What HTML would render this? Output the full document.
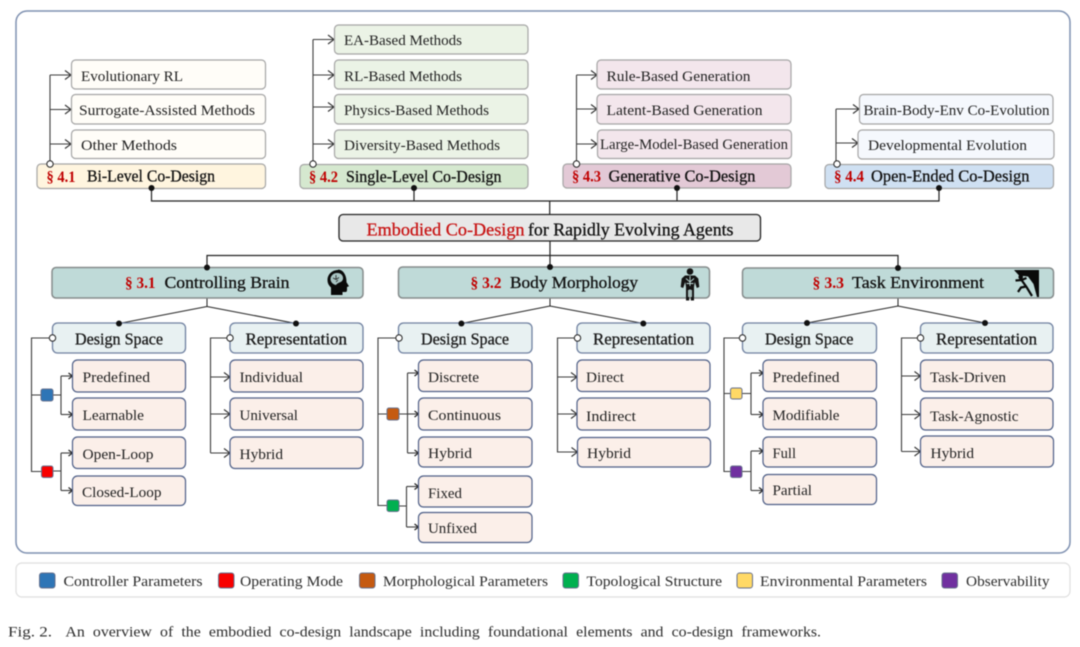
<!DOCTYPE html>
<html><head><meta charset="utf-8"><style>
html,body{margin:0;padding:0;background:#fff}
svg{display:block;filter:blur(.45px)}
text{font-family:"Liberation Serif",serif;fill:#222}
.l{font-size:15px}
.t{font-size:17px;fill:#111;stroke:#111;stroke-width:.3px}
.s{font-size:15.5px;fill:#c00000;font-weight:bold}
.h{font-size:16.5px;fill:#1a1a1a;stroke:#1a1a1a;stroke-width:.3px}
.c{font-size:18px;stroke-width:.3px}
.g{font-size:14.5px;fill:#2c2c2c}
.ln{fill:none;stroke:#3c3c3c;stroke-width:1.1}
.k{fill:none;stroke:#222;stroke-width:1.2}
.a{marker-end:url(#m)}
.b{marker-end:url(#n)}
.leaf{fill:#fbefe9;stroke:#4f6088;stroke-width:1.2}
.ds{fill:#e8f1f2;stroke:#6f80a0;stroke-width:1.3}
.sec{fill:#bfdad8;stroke:#858b8b;stroke-width:1.5}
.bd{stroke:#a5a5a5;stroke-width:1.2}
.od{fill:#fff;stroke:#222;stroke-width:1}
</style></head><body>
<svg width="1080" height="647" viewBox="0 0 1080 647" xmlns="http://www.w3.org/2000/svg">
<defs>
<marker id="m" markerUnits="userSpaceOnUse" markerWidth="10" markerHeight="12" refX="8" refY="6" orient="auto"><path d="M2 1.5L8 6L2 10.5" fill="none" stroke="#333" stroke-width="1.1"/></marker>
<marker id="n" markerUnits="userSpaceOnUse" markerWidth="8" markerHeight="8" refX="6" refY="4" orient="auto"><path d="M2 1L6 4L2 7" fill="none" stroke="#222" stroke-width="1.2"/></marker>
</defs>
<rect x="16" y="11" width="1054" height="542" rx="11" fill="#fff" stroke="#7e90b0" stroke-width="1.5"/>
<rect x="16" y="563" width="1054" height="34" rx="6" fill="#fff" stroke="#dedede" stroke-width="1.2"/>

<!-- top connectors -->
<path class="k" d="M151.500 188V201H939V188M414 188V201M677 188V201M549.700 201V214.500"/>
<path class="k" d="M207 267.500V255.500H898V268M550 241V267"/>
<path class="k" style="stroke-width:1" d="M207 298V306.500M119 323.500L207 306.500L296 323.500M550 298V306M461.400 323.500L550 306L643.300 323.500M898 298V306M807 323L898 306L985 323"/>

<!-- group connectors -->
<path class="ln" d="M50 164V75"/><path class="ln a" d="M50 75H71"/><path class="ln a" d="M50 109.500H71"/><path class="ln a" d="M50 144H71"/>
<path class="ln" d="M313 164V39.500"/><path class="ln a" d="M313 39.500H334"/><path class="ln a" d="M313 75H334"/><path class="ln a" d="M313 107H334"/><path class="ln a" d="M313 144H334"/>
<path class="ln" d="M576.500 164V75"/><path class="ln a" d="M576.500 75H597"/><path class="ln a" d="M576.500 109H597"/><path class="ln a" d="M576.500 144H597"/>
<path class="ln" d="M836 164V109"/><path class="ln a" d="M836 109H859"/><path class="ln a" d="M836 143H858"/>

<!-- top boxes -->
<g class="bd" fill="#fffdf8">
<rect x="71.500" y="60" width="194" height="29" rx="4"/><rect x="71.500" y="94.500" width="194" height="29.500" rx="4"/><rect x="71.500" y="130" width="194" height="28.500" rx="4"/></g>
<rect class="bd" x="37" y="164" width="228.500" height="24.500" rx="4" fill="#fff5df"/>
<g class="bd" fill="#ebf3e6">
<rect x="334.500" y="25" width="193.500" height="29" rx="4"/><rect x="334.500" y="60" width="193.500" height="29" rx="4"/><rect x="334.500" y="94.500" width="193.500" height="29.500" rx="4"/><rect x="334.500" y="130" width="193.500" height="28.500" rx="4"/></g>
<rect class="bd" x="300" y="164.500" width="228" height="24" rx="4" fill="#d5e8cf"/>
<g class="bd" fill="#f3e6ec">
<rect x="597" y="60" width="194" height="29" rx="4"/><rect x="597" y="94.500" width="194" height="29.500" rx="4"/><rect x="597.500" y="130" width="194" height="28.500" rx="4"/></g>
<rect class="bd" x="563" y="164" width="228" height="24" rx="4" fill="#e3c9d6"/>
<g class="bd" fill="#f5f8fd">
<rect x="859.500" y="94.500" width="193.500" height="29.500" rx="4"/><rect x="858" y="130" width="196" height="29" rx="4"/></g>
<rect class="bd" x="825" y="164.500" width="228.500" height="24" rx="4" fill="#cfe0f2"/>

<text class="l" x="81" y="81" textLength="102" lengthAdjust="spacingAndGlyphs">Evolutionary RL</text>
<text class="l" x="79" y="115" textLength="176" lengthAdjust="spacingAndGlyphs">Surrogate-Assisted Methods</text>
<text class="l" x="81" y="150" textLength="96" lengthAdjust="spacingAndGlyphs">Other Methods</text>
<text class="l" x="344" y="45" textLength="118" lengthAdjust="spacingAndGlyphs">EA-Based Methods</text>
<text class="l" x="344" y="81" textLength="118" lengthAdjust="spacingAndGlyphs">RL-Based Methods</text>
<text class="l" x="344" y="115" textLength="145" lengthAdjust="spacingAndGlyphs">Physics-Based Methods</text>
<text class="l" x="344" y="150" textLength="156" lengthAdjust="spacingAndGlyphs">Diversity-Based Methods</text>
<text class="l" x="606.500" y="81" textLength="144" lengthAdjust="spacingAndGlyphs">Rule-Based Generation</text>
<text class="l" x="606.500" y="115" textLength="156" lengthAdjust="spacingAndGlyphs">Latent-Based Generation</text>
<text class="l" x="600" y="149" textLength="188" lengthAdjust="spacingAndGlyphs">Large-Model-Based Generation</text>
<text class="l" x="863.500" y="115" textLength="186" lengthAdjust="spacingAndGlyphs">Brain-Body-Env Co-Evolution</text>
<text class="l" x="868" y="150" textLength="159" lengthAdjust="spacingAndGlyphs">Developmental Evolution</text>

<text class="s" x="46.500" y="182" textLength="29" lengthAdjust="spacingAndGlyphs">§ 4.1</text>
<text class="t" x="87" y="181.500" textLength="128" lengthAdjust="spacingAndGlyphs">Bi-Level Co-Design</text>
<text class="s" x="309" y="182" textLength="29" lengthAdjust="spacingAndGlyphs">§ 4.2</text>
<text class="t" x="346" y="182" textLength="155.500" lengthAdjust="spacingAndGlyphs">Single-Level Co-Design</text>
<text class="s" x="572" y="181.500" textLength="29" lengthAdjust="spacingAndGlyphs">§ 4.3</text>
<text class="t" x="608.500" y="181.500" textLength="147" lengthAdjust="spacingAndGlyphs">Generative Co-Design</text>
<text class="s" x="834" y="181.500" textLength="30" lengthAdjust="spacingAndGlyphs">§ 4.4</text>
<text class="t" x="871" y="181.500" textLength="158.500" lengthAdjust="spacingAndGlyphs">Open-Ended Co-Design</text>

<!-- center -->
<rect x="339" y="214.500" width="421.500" height="26.500" rx="4" fill="#e8e8e8" stroke="#222" stroke-width="1.3"/>
<text class="c" x="366.500" y="235.500" textLength="158" lengthAdjust="spacingAndGlyphs" style="fill:#c81414;stroke:#c81414">Embodied Co-Design</text>
<text class="c" x="528" y="235.500" textLength="205.500" lengthAdjust="spacingAndGlyphs" style="fill:#111;stroke:#111">for Rapidly Evolving Agents</text>

<!-- sections -->
<rect class="sec" x="52" y="267.500" width="311" height="30.500" rx="4"/>
<rect class="sec" x="398.500" y="267" width="311" height="31" rx="4"/>
<rect class="sec" x="742.500" y="268" width="311" height="30" rx="4"/>
<text class="s" x="125" y="288" textLength="30.500" lengthAdjust="spacingAndGlyphs">§ 3.1</text>
<text class="t" x="164.500" y="288" textLength="125" lengthAdjust="spacingAndGlyphs">Controlling Brain</text>
<text class="s" x="470.500" y="288" textLength="31" lengthAdjust="spacingAndGlyphs">§ 3.2</text>
<text class="t" x="510" y="288" textLength="128" lengthAdjust="spacingAndGlyphs">Body Morphology</text>
<text class="s" x="812.500" y="288" textLength="31.500" lengthAdjust="spacingAndGlyphs">§ 3.3</text>
<text class="t" x="852" y="288" textLength="132" lengthAdjust="spacingAndGlyphs">Task Environment</text>

<!-- icons -->
<path fill="#0a0a0a" d="M338 270c-6 0-10.500 4.500-10.500 10c0 3.500 1.500 5.500 3.500 7.500v7.500h11.500v-3h3c1.200 0 1.500-1 1.500-2v-3l2-.8l-2.500-4c.2-7-3.500-12.700-8.500-12.700z"/>
<path fill="#a9c4c3" d="M330.500 279c0-3.500 3.500-6.500 7-6c3.500 0 6 2.500 5.500 6c-.5 2-2 3-3.500 3.500c-1.500.5-3 1.500-3.500 2.500c-3-.5-5.500-3-5.500-6z"/>
<path fill="none" stroke="#222" stroke-width=".8" d="M333 278l3 1.500l3-2M336 275v4M336 282l2-2"/>
<g fill="#141414"><circle cx="690" cy="271.500" r="3.300"/><path d="M685 275.500h10l3.300 3l1 8.500l-2.500 1l-2-6l-.8 5v13.500h-3.200v-11h-1.600v11h-3.200v-13.500l-.8-5l-2 6l-2.500-1l1-8.500z"/></g>
<path fill="none" stroke="#bfdad8" stroke-width=".9" d="M690 276v10M686 278.500l4 3.500l4-3.500M686.500 283.500h7M688.500 290v7M691.500 290v7"/>
<path fill="#0a0a0a" d="M1014 270H1039V297H1037L1033.500 284L1028 276.500L1019 275.500z"/>
<circle cx="1020.700" cy="277" r="2.300" fill="#0a0a0a"/>
<path fill="none" stroke="#0a0a0a" stroke-width="2.200" d="M1015.500 280.500L1021.500 280L1026.500 278M1021.500 280L1026.500 287L1032 296M1026 286.500L1021 287.500L1018 292"/>

<!-- sub connectors col1 -->
<path class="ln" d="M52.500 338H31.500V471.500H41M31.500 395H41M53 395H61M53 471H61"/>
<path class="ln" d="M61 376V414.500M61 453V490.500"/>
<path class="ln b" d="M61 376H72.500"/><path class="ln b" d="M61 414.500H72.500"/><path class="ln b" d="M61 453H72.500"/><path class="ln b" d="M61 490.500H72.500"/>
<path class="ln" d="M230 338H210.500V453"/><path class="ln a" d="M210.500 377H230"/><path class="ln a" d="M210.500 414H230"/><path class="ln a" d="M210.500 453H230"/>
<!-- col2 -->
<path class="ln" d="M399 338H378V505.500H387M378 414H387M399 414H407.500M399 506H406.500"/>
<path class="ln" d="M407.500 373V453M406.500 486.500V527"/>
<path class="ln b" d="M407.500 373H418.500"/><path class="ln b" d="M407.500 414H418.500"/><path class="ln b" d="M407.500 453H418.500"/><path class="ln b" d="M406.500 486.500H418.500"/><path class="ln b" d="M406.500 527H418.500"/>
<path class="ln" d="M577.500 338H557.500V452.500"/><path class="ln a" d="M557.500 377H577"/><path class="ln a" d="M557.500 414H577"/><path class="ln a" d="M557.500 452H577.500"/>
<!-- col3 -->
<path class="ln" d="M742.500 338H724V471.500H730.500M724 393.500H730.500M742 393.500H751M742 471.500H751"/>
<path class="ln" d="M751 373V414.500M751 451V490.500"/>
<path class="ln b" d="M751 373H763"/><path class="ln b" d="M751 414.500H763"/><path class="ln b" d="M751 451H763"/><path class="ln b" d="M751 490.500H763"/>
<path class="ln" d="M920.500 338H901.500V451.500"/><path class="ln a" d="M901.500 376H920.500"/><path class="ln a" d="M901.500 414.500H920.500"/><path class="ln a" d="M901.500 451.500H920.500"/>

<!-- DS / Rep -->
<rect class="ds" x="52.500" y="323" width="133" height="30" rx="5"/>
<rect class="ds" x="230" y="323" width="133" height="30" rx="5"/>
<rect class="ds" x="398.500" y="323" width="133.500" height="30" rx="5"/>
<rect class="ds" x="577" y="323" width="133" height="30" rx="5"/>
<rect class="ds" x="742.500" y="323" width="134" height="30" rx="5"/>
<rect class="ds" x="920.500" y="323" width="132.500" height="30" rx="5"/>
<text class="h" x="75" y="344.500" textLength="88" lengthAdjust="spacingAndGlyphs">Design Space</text>
<text class="h" x="245.500" y="344.500" textLength="101.500" lengthAdjust="spacingAndGlyphs">Representation</text>
<text class="h" x="421" y="344.500" textLength="88" lengthAdjust="spacingAndGlyphs">Design Space</text>
<text class="h" x="593" y="344.500" textLength="101" lengthAdjust="spacingAndGlyphs">Representation</text>
<text class="h" x="765" y="344.500" textLength="88.500" lengthAdjust="spacingAndGlyphs">Design Space</text>
<text class="h" x="936" y="344.500" textLength="101" lengthAdjust="spacingAndGlyphs">Representation</text>

<!-- leaves -->
<rect class="leaf" x="72.500" y="360" width="113" height="32" rx="5"/>
<rect class="leaf" x="72.500" y="398" width="113" height="32" rx="5"/>
<rect class="leaf" x="72.500" y="437" width="113" height="31.500" rx="5"/>
<rect class="leaf" x="72.500" y="476" width="113" height="29.500" rx="5"/>
<rect class="leaf" x="230" y="360" width="133" height="32" rx="5"/>
<rect class="leaf" x="230" y="398" width="133" height="32" rx="5"/>
<rect class="leaf" x="230" y="437" width="133" height="31.500" rx="5"/>
<rect class="leaf" x="418.500" y="360" width="113.500" height="31.500" rx="5"/>
<rect class="leaf" x="418.500" y="398" width="113.500" height="32" rx="5"/>
<rect class="leaf" x="418.500" y="437" width="113.500" height="30" rx="5"/>
<rect class="leaf" x="418.500" y="476" width="113.500" height="31" rx="5"/>
<rect class="leaf" x="418.500" y="512.500" width="113.500" height="30" rx="5"/>
<rect class="leaf" x="577" y="360" width="133" height="31.500" rx="5"/>
<rect class="leaf" x="577" y="398" width="133" height="32" rx="5"/>
<rect class="leaf" x="577.500" y="437.500" width="133" height="29.500" rx="5"/>
<rect class="leaf" x="763" y="360" width="113.500" height="31.500" rx="5"/>
<rect class="leaf" x="763" y="398" width="113.500" height="31.500" rx="5"/>
<rect class="leaf" x="763" y="437" width="113.500" height="30" rx="5"/>
<rect class="leaf" x="763" y="474.500" width="113.500" height="30" rx="5"/>
<rect class="leaf" x="920.500" y="360" width="132.500" height="31.500" rx="5"/>
<rect class="leaf" x="920.500" y="398" width="132.500" height="32" rx="5"/>
<rect class="leaf" x="920.500" y="436" width="133" height="31" rx="5"/>

<text class="l" x="82.500" y="382" textLength="67.500" lengthAdjust="spacingAndGlyphs">Predefined</text>
<text class="l" x="82.500" y="420" textLength="61.500" lengthAdjust="spacingAndGlyphs">Learnable</text>
<text class="l" x="82.500" y="459" textLength="71" lengthAdjust="spacingAndGlyphs">Open-Loop</text>
<text class="l" x="82" y="497" textLength="79.500" lengthAdjust="spacingAndGlyphs">Closed-Loop</text>
<text class="l" x="239.500" y="382" textLength="63.500" lengthAdjust="spacingAndGlyphs">Individual</text>
<text class="l" x="239.500" y="420" textLength="58.500" lengthAdjust="spacingAndGlyphs">Universal</text>
<text class="l" x="239.500" y="459" textLength="43.500" lengthAdjust="spacingAndGlyphs">Hybrid</text>
<text class="l" x="428" y="382" textLength="51" lengthAdjust="spacingAndGlyphs">Discrete</text>
<text class="l" x="428" y="420" textLength="73" lengthAdjust="spacingAndGlyphs">Continuous</text>
<text class="l" x="428" y="458" textLength="44" lengthAdjust="spacingAndGlyphs">Hybrid</text>
<text class="l" x="428" y="498" textLength="34" lengthAdjust="spacingAndGlyphs">Fixed</text>
<text class="l" x="428" y="533" textLength="49" lengthAdjust="spacingAndGlyphs">Unfixed</text>
<text class="l" x="586" y="382" textLength="38" lengthAdjust="spacingAndGlyphs">Direct</text>
<text class="l" x="586" y="421" textLength="50" lengthAdjust="spacingAndGlyphs">Indirect</text>
<text class="l" x="587" y="458" textLength="44" lengthAdjust="spacingAndGlyphs">Hybrid</text>
<text class="l" x="772.500" y="382" textLength="67" lengthAdjust="spacingAndGlyphs">Predefined</text>
<text class="l" x="772.500" y="420" textLength="67" lengthAdjust="spacingAndGlyphs">Modifiable</text>
<text class="l" x="772.500" y="458" textLength="23.500" lengthAdjust="spacingAndGlyphs">Full</text>
<text class="l" x="772.500" y="495" textLength="39.500" lengthAdjust="spacingAndGlyphs">Partial</text>
<text class="l" x="930" y="382" textLength="76" lengthAdjust="spacingAndGlyphs">Task-Driven</text>
<text class="l" x="930" y="421" textLength="88.500" lengthAdjust="spacingAndGlyphs">Task-Agnostic</text>
<text class="l" x="930.500" y="458" textLength="43.500" lengthAdjust="spacingAndGlyphs">Hybrid</text>

<!-- squares -->
<g stroke="#66708c" stroke-width="1">
<rect x="41" y="389" width="12" height="12" rx="2" fill="#2e75b6"/>
<rect x="41.500" y="466" width="11.500" height="11.500" rx="2" fill="#f80000"/>
<rect x="387" y="408" width="12" height="12" rx="2" fill="#c55a11"/>
<rect x="387" y="500" width="12" height="11.500" rx="2" fill="#00b050"/>
<rect x="730.500" y="388" width="11.500" height="11" rx="2" fill="#ffd966"/>
<rect x="730.500" y="466" width="11.500" height="11.500" rx="2" fill="#7030a0"/>
</g>

<!-- dots -->
<g fill="#111">
<circle cx="151.500" cy="188" r="3"/><circle cx="414" cy="188" r="3"/><circle cx="677" cy="188" r="3"/><circle cx="939" cy="188" r="3"/>
<circle cx="207" cy="267.500" r="3"/><circle cx="550" cy="267" r="3"/><circle cx="898" cy="268" r="3"/>
<circle cx="119" cy="323.500" r="3"/><circle cx="296" cy="323.500" r="3"/><circle cx="461.400" cy="323.500" r="3"/><circle cx="643.300" cy="323.500" r="3"/><circle cx="807" cy="323" r="3"/><circle cx="985" cy="323" r="3"/>
</g>
<circle class="od" cx="50" cy="164" r="3.200"/><circle class="od" cx="313" cy="164" r="3.200"/><circle class="od" cx="576.500" cy="164" r="3.200"/><circle class="od" cx="837" cy="164" r="3.200"/>
<circle class="od" cx="52.500" cy="338" r="3.200"/><circle class="od" cx="230" cy="338" r="3.200"/><circle class="od" cx="399" cy="338" r="3.200"/><circle class="od" cx="577.500" cy="338" r="3.200"/><circle class="od" cx="742.500" cy="338" r="3.200"/><circle class="od" cx="920.500" cy="338" r="3.200"/>

<!-- legend -->
<g stroke="#66708c" stroke-width="1">
<rect x="39.500" y="573" width="15.500" height="15" rx="2.500" fill="#2e75b6"/>
<rect x="218.500" y="573" width="15.500" height="15" rx="2.500" fill="#f80000"/>
<rect x="359.500" y="573" width="15.500" height="15" rx="2.500" fill="#c55a11"/>
<rect x="563" y="573" width="15.500" height="15" rx="2.500" fill="#00b050"/>
<rect x="737" y="573" width="15.500" height="15" rx="2.500" fill="#ffd966"/>
<rect x="942" y="573" width="15.500" height="15" rx="2.500" fill="#7030a0"/>
</g>
<text class="g" x="63.500" y="586" textLength="139" lengthAdjust="spacingAndGlyphs">Controller Parameters</text>
<text class="g" x="240" y="586" textLength="103" lengthAdjust="spacingAndGlyphs">Operating Mode</text>
<text class="g" x="383" y="586" textLength="165" lengthAdjust="spacingAndGlyphs">Morphological Parameters</text>
<text class="g" x="586.500" y="586" textLength="135.500" lengthAdjust="spacingAndGlyphs">Topological Structure</text>
<text class="g" x="760" y="586" textLength="167" lengthAdjust="spacingAndGlyphs">Environmental Parameters</text>
<text class="g" x="966" y="586" textLength="83.500" lengthAdjust="spacingAndGlyphs">Observability</text>

<text x="8" y="636.500" textLength="44" lengthAdjust="spacingAndGlyphs" style="font-size:15px;fill:#2c2c2c">Fig. 2.</text>
<text x="65.400" y="636.500" textLength="755.600" lengthAdjust="spacingAndGlyphs" style="font-size:15px;word-spacing:4px;fill:#2c2c2c">An overview of the embodied co-design landscape including foundational elements and co-design frameworks.</text>
</svg>
</body></html>
